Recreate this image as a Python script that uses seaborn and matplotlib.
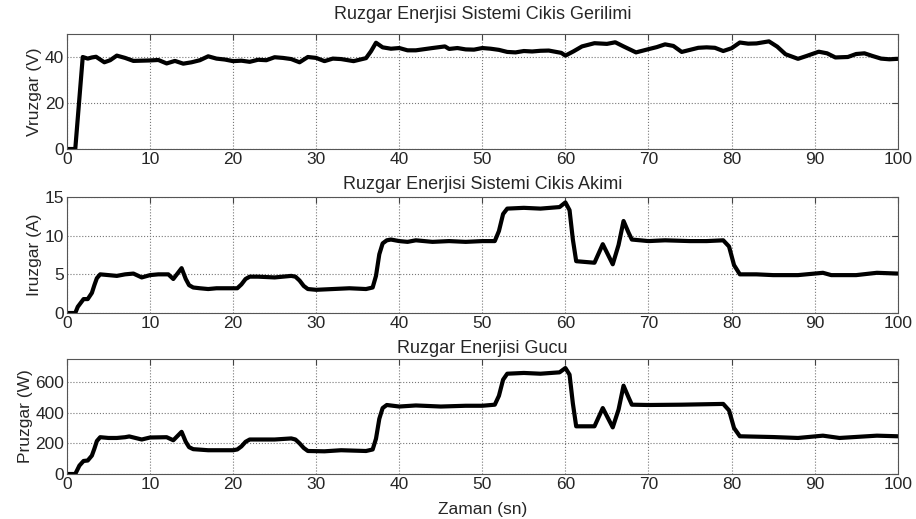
import matplotlib
matplotlib.use('Agg')
import matplotlib.pyplot as plt
import seaborn as sns

# Wind system output voltage
t_volt = [0, 1, 1.9, 2.5, 3, 3.5, 4.5, 5.2, 6, 7, 8, 9, 10, 11, 12, 13, 14, 15, 16, 17,
          18, 19, 20, 21, 22, 23, 24, 25, 26, 27, 28, 29, 30, 31, 32, 33, 34.5, 36, 36.6,
          37.2, 38, 39, 40, 41, 42, 43, 44, 45.5, 46, 47, 48, 49, 50, 51, 52, 53, 54, 55,
          56, 57, 58, 59.5, 60, 61, 62, 63.5, 65, 66, 67, 68.5, 70, 71, 72, 73, 74, 75, 76,
          77, 78, 79, 80, 81, 82, 83, 84.5, 85.5, 86.5, 88, 89, 90.5, 91.5, 92.5, 94, 95,
          96, 97, 98, 99, 100]
volt = [0, 0, 40, 39.3, 39.8, 40.1, 37.7, 38.6, 40.6, 39.6, 38.3, 38.4, 38.5, 38.7, 37.2,
        38.3, 37.1, 37.7, 38.6, 40.3, 39.3, 38.9, 38.2, 38.4, 37.9, 38.8, 38.6, 39.9, 39.6,
        39.1, 37.7, 40, 39.6, 38.2, 39.3, 39.1, 38.2, 39.5, 42.5, 46.2, 44.2, 43.6, 43.9,
        42.9, 42.9, 43.4, 43.9, 44.6, 43.5, 43.9, 43.3, 43.2, 43.9, 43.6, 43.1, 42.2, 42.0,
        42.6, 42.4, 42.7, 42.8, 41.8, 40.6, 42.5, 44.6, 46.0, 45.7, 46.4, 44.6, 42.0, 43.4,
        44.3, 45.5, 44.8, 42.2, 43.1, 44.0, 44.2, 44.0, 42.6, 43.8, 46.3, 45.8, 45.9, 46.8,
        44.5, 41.2, 39.2, 40.4, 42.3, 41.6, 39.8, 40.0, 41.3, 41.6, 40.4, 39.3, 39.0, 39.2]

# Wind system output current
t_curr = [0, 1, 1.3, 2, 2.5, 3, 3.3, 3.6, 4, 5, 6, 7, 8, 9, 10, 11, 12.2, 12.8, 13.8, 14.3,
          14.7, 15.2, 16, 17, 18, 19, 20.5, 21, 21.5, 22, 23, 25, 26, 27, 27.5, 28, 28.5,
          29, 30, 32, 34, 36, 36.8, 37.2, 37.6, 38, 38.5, 39, 40, 41, 42, 44, 46, 48, 50,
          51.5, 52, 52.5, 53, 55, 57, 59.3, 60, 60.5, 60.9, 61.3, 63.5, 64.5, 65.7, 66.4,
          67, 67.6, 68, 70, 72, 75, 77, 79, 79.7, 80.3, 81, 83, 85, 88, 91, 92, 95, 97.5, 100]
curr = [0, 0, 0.8, 1.8, 1.8, 2.6, 3.6, 4.5, 5.0, 4.9, 4.8, 5.0, 5.1, 4.6, 4.9, 5.0, 5.0,
        4.4, 5.8, 4.4, 3.6, 3.3, 3.2, 3.1, 3.2, 3.2, 3.2, 3.7, 4.4, 4.7, 4.7, 4.6, 4.7, 4.8,
        4.7, 4.2, 3.5, 3.1, 3.0, 3.1, 3.2, 3.1, 3.3, 4.8, 7.6, 9.0, 9.4, 9.5, 9.3, 9.2, 9.4,
        9.2, 9.3, 9.2, 9.3, 9.3, 10.6, 12.8, 13.5, 13.6, 13.5, 13.7, 14.3, 13.3, 9.5, 6.7,
        6.5, 8.9, 6.3, 8.8, 11.9, 10.4, 9.5, 9.3, 9.4, 9.3, 9.3, 9.4, 8.6, 6.2, 5.0, 5.0,
        4.9, 4.9, 5.2, 4.9, 4.9, 5.2, 5.1]

# Wind power
t_pow = [0, 1, 1.5, 2, 2.5, 3, 3.3, 3.6, 4, 5, 6, 7, 7.5, 9, 10, 12, 12.8, 13.8, 14.3, 14.7,
         15.2, 17, 20, 20.5, 21, 21.5, 22, 25, 27, 27.5, 28, 28.5, 29, 31, 33, 36, 36.8,
         37.2, 37.6, 38, 38.5, 40, 42, 45, 48, 50, 51.5, 52, 52.5, 53, 55, 57, 59.3, 60,
         60.5, 60.9, 61.3, 63.5, 64.5, 65.7, 66.4, 67, 67.6, 68, 70, 74, 79, 79.7, 80.3,
         81, 85, 88, 91, 93, 97.5, 100]
pow_w = [0, 0, 55, 85, 88, 120, 165, 215, 240, 235, 235, 240, 245, 225, 238, 240, 220, 275,
         210, 175, 162, 155, 155, 160, 180, 210, 225, 225, 232, 225, 200, 170, 150, 148, 155,
         150, 160, 230, 360, 430, 450, 440, 447, 440, 445, 445, 452, 510, 615, 654, 659, 654,
         663, 691, 648, 460, 311, 311, 430, 304, 420, 576, 500, 452, 450, 452, 457, 415,
         300, 246, 241, 235, 250, 235, 250, 246]

titles = ['Ruzgar Enerjisi Sistemi Cikis Gerilimi',
          'Ruzgar Enerjisi Sistemi Cikis Akimi',
          'Ruzgar Enerjisi Gucu']
ylabels = ['Vruzgar (V)', 'Iruzgar (A)', 'Pruzgar (W)']
ylims = [(0, 50), (0, 15), (0, 750)]
yticks = [[0, 20, 40], [0, 5, 10, 15], [0, 200, 400, 600]]
xticks = [0, 10, 20, 30, 40, 50, 60, 70, 80, 90, 100]

sns.set_style('white')
plt.rcParams['font.family'] = ['Liberation Sans', 'DejaVu Sans']

fig = plt.figure(figsize=(9.16, 5.19), dpi=100)
boxes = [[0.0731, 0.7129, 0.9069, 0.2216],
         [0.0731, 0.3969, 0.9069, 0.2235],
         [0.0731, 0.0867, 0.9069, 0.2216]]
title_pads = [11, 6, 4]
series = [(t_volt, volt), (t_curr, curr), (t_pow, pow_w)]

for i, (tx, ty) in enumerate(series):
    ax = fig.add_axes(boxes[i])
    sns.lineplot(x=tx, y=ty, ax=ax, color='black', linewidth=3.0)
    ax.lines[0].set_solid_joinstyle('round')
    ax.set_xlim(0, 100)
    ax.set_ylim(*ylims[i])
    ax.set_xticks(xticks)
    ax.set_yticks(yticks[i])
    ax.grid(True, linestyle=':', color='#777777', linewidth=0.8)
    ax.tick_params(direction='in', top=True, right=True, labelsize=12.5,
                   length=4, color='#444444', pad=2)
    for sp in ax.spines.values():
        sp.set_color('#555555')
        sp.set_linewidth(0.8)
    ax.set_title(titles[i], fontsize=13, pad=title_pads[i])
    ax.set_ylabel(ylabels[i], fontsize=12.5, labelpad=2)

ax.set_xlabel('Zaman (sn)', fontsize=12.5, labelpad=7)

fig.savefig('out.png', dpi=100)
